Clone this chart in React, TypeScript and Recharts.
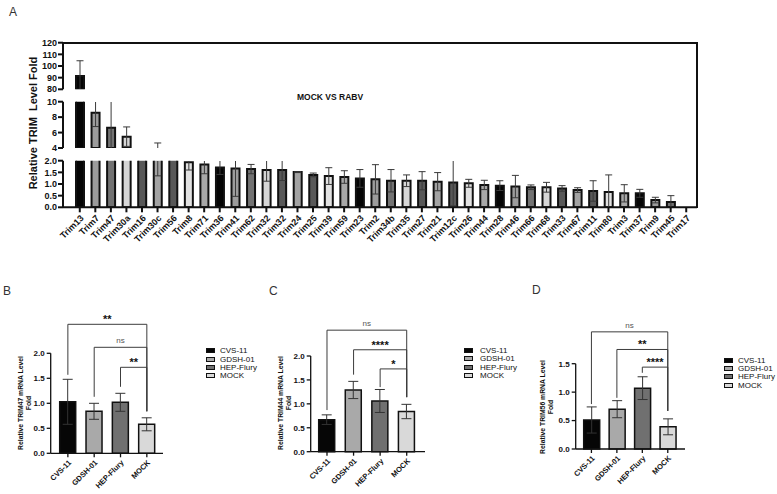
import React from "react"
import { BarChart, Bar, XAxis, YAxis, ErrorBar, Cell, ReferenceLine } from "recharts"

const FONT = '"Liberation Sans", Arial, Helvetica, sans-serif'
const INK = "#111"

// Panel A: MOCK vs RABV screen, relative fold per TRIM gene
const trimGenes = [
  "Trim13", "Trim7", "Trim47", "Trim30a", "Trim16", "Trim30c", "Trim56", "Trim8", "Trim71", "Trim36",
  "Trim41", "Trim62", "Trim32", "Trim32", "Trim24", "Trim25", "Trim39", "Trim59", "Trim23", "Trim2",
  "Trim34b", "Trim35", "Trim27", "Trim21", "Trim12c", "Trim26", "Trim44", "Trim28", "Trim46", "Trim66",
  "Trim68", "Trim33", "Trim67", "Trim11", "Trim80", "Trim3", "Trim37", "Trim9", "Trim45", "Trim17",
]
const trimFold = [
  91.5, 8.58, 6.64, 5.47, 2.4, 3.0, 2.2, 1.93, 1.84, 1.71,
  1.67, 1.64, 1.6, 1.6, 1.51, 1.39, 1.34, 1.3, 1.24, 1.2,
  1.14, 1.14, 1.14, 1.1, 1.06, 1.03, 0.96, 0.93, 0.89, 0.86,
  0.86, 0.81, 0.74, 0.7, 0.66, 0.6, 0.6, 0.31, 0.23, 0,
]
const trimSd = [
  13, 1.8, 3.5, 1.26, 0.3, 1.65, 0.1, 0.33, 0.4, 0.3,
  1.2, 0.2, 0.48, 0.45, 0.02, 0.08, 0.36, 0.27, 0.38, 0.63,
  0.48, 0.25, 0.39, 0.39, 1.0, 0.17, 0.2, 0.21, 0.48, 0.1,
  0.21, 0.12, 0.1, 0.44, 0.73, 0.37, 0.17, 0.12, 0.27, 0,
]
// shades repeat every 9 genes
const trimShades = ["#050505", "#9c9c9c", "#727272", "#d6d6d6", "#585858", "#a3a3a3", "#585858", "#e2e2e2", "#a8a8a8"]

// the broken y axis: three stacked ranges
const segDomains = [[80, 120], [4, 10], [0, 2]]
const segTicks = [[80, 90, 100, 110, 120], [4, 6, 8, 10], [0, 0.5, 1, 1.5, 2]]

// Panels B-D
const strains = ["CVS-11", "GDSH-01", "HEP-Flury", "MOCK"]
const strainShades = ["#060606", "#a9a9a9", "#707070", "#d9d9d9"]

const trim47Fold = [1.03, 0.84, 1.02, 0.58]
const trim47Sd = [0.45, 0.16, 0.18, 0.13]
const trim47Marks = ["**", "ns", "**"]
const trim47BracketY = [2.58, 2.12, 1.72]
const trim47LegEnd = [1.57, 1.13, 1.33, 0.84]

const trim44Fold = [0.67, 1.29, 1.06, 0.84]
const trim44Sd = [0.1, 0.18, 0.24, 0.15]
const trim44Marks = ["ns", "****", "*"]
const trim44BracketY = [2.54, 2.13, 1.73]
const trim44LegEnd = [0.87, 1.61, 1.35, 1.14]

const trim56Fold = [0.51, 0.7, 1.07, 0.39]
const trim56Sd = [0.23, 0.15, 0.2, 0.14]
const trim56Marks = ["ns", "**", "****"]
const trim56BracketY = [2.06, 1.75, 1.44]
const trim56LegEnd = [0.79, 0.9, 1.34, 0.67]

const segBoxes = [
  { top: 30, height: 66, mt: 12.7, plot: 46.6 },
  { top: 95, height: 60, mt: 6.7, plot: 46.3 },
  { top: 150, height: 100, mt: 10.7, plot: 46.6 },
]
const X_AXIS_H = 42.7
const axisPad = { left: 9, right: 3 }

function TrimSegment({ idx }: { idx: number }) {
  const [lo] = segDomains[idx]
  const box = segBoxes[idx]
  const last = idx === 2
  // values below the segment floor are left out so no stray outline shows at the break
  const rows = trimGenes.map((gene, i) => ({
    gene,
    box: trimFold[i] > lo || last ? trimFold[i] : null,
    fold: trimFold[i],
    sd: trimSd[i],
  }))
  const mb = box.height - box.mt - box.plot
  return (
    <>
      <div style={{ position: "absolute", left: 0, top: box.top }}>
        <BarChart width={777} height={box.height} data={rows} barSize={8}
          margin={{ top: box.mt, right: 80, bottom: last ? mb - X_AXIS_H : mb, left: 33 }}>
          <XAxis dataKey="gene" interval={0} hide={!last} height={X_AXIS_H} padding={axisPad}
            axisLine={{ stroke: INK, strokeWidth: 2 }} tickLine={{ stroke: INK, strokeWidth: 2 }}
            tickSize={5} angle={-45} textAnchor="end"
            tick={{ fontSize: 9, fontWeight: 700, fill: INK, fontFamily: FONT }} />
          <YAxis type="number" domain={segDomains[idx]} ticks={segTicks[idx]} allowDataOverflow
            width={30} tickSize={5} tickMargin={1} interval={0}
            tickFormatter={(v: number) => (last ? v.toFixed(1) : String(v))}
            axisLine={{ stroke: INK, strokeWidth: 2 }} tickLine={{ stroke: INK, strokeWidth: 2 }}
            tick={{ fontSize: 9, fontWeight: 700, fill: INK, fontFamily: FONT }} />
          <Bar dataKey="box" isAnimationActive={false} stroke={INK} strokeWidth={2}>
            {rows.map((r, i) => (
              <Cell key={i} fill={trimShades[i % trimShades.length]} />
            ))}
          </Bar>
        </BarChart>
      </div>
      {/* error bars sit in their own layer, cut to the segment's plot band */}
      <div style={{
        position: "absolute", left: 0, top: box.top + box.mt, width: 777, height: box.plot,
        overflow: "hidden",
      }}>
        <div style={{ marginTop: -box.mt }}>
          <BarChart width={777} height={box.height} data={rows} barSize={8}
            margin={{ top: box.mt, right: 80, bottom: mb, left: 63 }}>
            <XAxis dataKey="gene" hide padding={axisPad} />
            <YAxis type="number" domain={segDomains[idx]} allowDataOverflow hide />
            <Bar dataKey="fold" isAnimationActive={false} fill="none" stroke="none">
              <ErrorBar dataKey="sd" width={3.5} stroke="#3a3a3a" strokeWidth={1} />
            </Bar>
          </BarChart>
        </div>
      </div>
    </>
  )
}

type PanelProps = {
  fold: number[]
  sd: number[]
  marks: string[]
  bracketY: number[]
  legEnd: number[]
  domain: number[]
  ticks: number[]
  left: number
  width: number
  margin: { top: number; right: number; bottom: number; left: number }
  yWidth: number
  xHeight: number
  pad: { left: number; right: number }
}

function StrainPanel(p: PanelProps) {
  const rows = strains.map((s, i) => ({ strain: s, fold: p.fold[i], sd: p.sd[i] }))
  const target = strains[strains.length - 1]
  return (
    <div style={{ position: "absolute", left: p.left, top: 300 }}>
      <BarChart width={p.width} height={194} data={rows} barSize={16} margin={p.margin}>
        <XAxis dataKey="strain" interval={0} allowDuplicatedCategory={false} height={p.xHeight}
          padding={p.pad} axisLine={{ stroke: INK, strokeWidth: 1.3 }}
          tickLine={{ stroke: INK, strokeWidth: 1.3 }} tickSize={4} angle={-45} textAnchor="end"
          tick={{ fontSize: 7.5, fontWeight: 700, fill: INK, fontFamily: FONT }} />
        <YAxis type="number" domain={p.domain} ticks={p.ticks} width={p.yWidth} tickSize={4}
          tickMargin={2} interval={0} tickFormatter={(v: number) => v.toFixed(1)}
          axisLine={{ stroke: INK, strokeWidth: 1.3 }} tickLine={{ stroke: INK, strokeWidth: 1.3 }}
          tick={{ fontSize: 8, fontWeight: 700, fill: INK, fontFamily: FONT }} />
        <Bar dataKey="fold" isAnimationActive={false} stroke={INK} strokeWidth={1.5}>
          {rows.map((r, i) => (
            <Cell key={r.strain} fill={strainShades[i]} />
          ))}
          <ErrorBar dataKey="sd" width={5} stroke="#333" strokeWidth={1} />
        </Bar>
        {p.marks.map((m, i) => {
          const from = strains[i]
          const y = p.bracketY[i]
          const ns = m === "ns"
          return [
            <ReferenceLine key={`h${i}`} ifOverflow="visible" stroke="#3c3c3c" strokeWidth={1}
              segment={[{ x: from, y }, { x: target, y }]}
              label={{
                value: m, position: "top", offset: ns ? 4 : 1, fill: ns ? "#555" : INK,
                fontSize: ns ? 8 : 11, fontWeight: ns ? 400 : 700, fontFamily: FONT,
              }} />,
            <ReferenceLine key={`l${i}`} ifOverflow="visible" stroke="#3c3c3c" strokeWidth={1}
              segment={[{ x: from, y: p.legEnd[i] }, { x: from, y }]} />,
            <ReferenceLine key={`r${i}`} ifOverflow="visible" stroke="#3c3c3c" strokeWidth={1}
              segment={[{ x: target, y: p.legEnd[3] }, { x: target, y }]} />,
          ]
        })}
      </BarChart>
    </div>
  )
}

function StrainLegend({ left, top, gap }: { left: number; top: number; gap: number }) {
  return (
    <div style={{ position: "absolute", left, top, fontFamily: FONT, fontSize: 8, color: INK }}>
      {strains.map((s, i) => (
        <div key={s} style={{ display: "flex", alignItems: "center", height: 8.3, whiteSpace: "nowrap" }}>
          <span style={{
            display: "inline-block", width: 9, height: 5, background: strainShades[i],
            border: `1px solid ${INK}`, boxSizing: "border-box", marginRight: gap,
          }} />
          {s}
        </div>
      ))}
    </div>
  )
}

function FoldLabel({ cx, cy, gene }: { cx: number; cy: number; gene: string }) {
  return (
    <div style={{
      position: "absolute", left: cx - 60, top: cy - 8, width: 120, height: 16,
      transform: "rotate(-90deg)", textAlign: "center", fontFamily: FONT, fontSize: 6.8,
      fontWeight: 700, lineHeight: "7.6px", color: INK, whiteSpace: "nowrap",
    }}>
      Relative {gene} mRNA Level
      <br />
      Fold
    </div>
  )
}

function PanelTag({ x, y, text }: { x: number; y: number; text: string }) {
  return (
    <div style={{ position: "absolute", left: x, top: y, fontFamily: FONT, fontSize: 12, color: "#333", lineHeight: "12px" }}>
      {text}
    </div>
  )
}

export default function App() {
  return (
    <div style={{ position: "absolute", left: 0, top: 0, width: 777, height: 494, background: "#fff", overflow: "hidden" }}>
      <PanelTag x={9} y={6} text="A" />
      <PanelTag x={3} y={285} text="B" />
      <PanelTag x={269} y={285} text="C" />
      <PanelTag x={532} y={284} text="D" />

      {/* frame on top and right of panel A */}
      <div style={{
        position: "absolute", left: 62, top: 41.7, width: 636, height: 166.6,
        borderTop: `2px solid ${INK}`, borderRight: `2px solid ${INK}`, boxSizing: "border-box",
      }} />
      {[0, 1, 2].map((i) => (
        <TrimSegment key={i} idx={i} />
      ))}
      <div style={{
        position: "absolute", left: 33 - 85, top: 123 - 8, width: 170, height: 16,
        transform: "rotate(-90deg)", textAlign: "center", fontFamily: FONT, fontSize: 11,
        fontWeight: 700, color: INK, whiteSpace: "pre", lineHeight: "16px",
      }}>
        Relative TRIM  Level Fold
      </div>
      <div style={{
        position: "absolute", left: 297, top: 92, fontFamily: FONT, fontSize: 8.5,
        fontWeight: 700, color: INK, whiteSpace: "nowrap",
      }}>
        MOCK VS RABV
      </div>

      <StrainPanel fold={trim47Fold} sd={trim47Sd} marks={trim47Marks}
        bracketY={trim47BracketY} legEnd={trim47LegEnd} domain={[0, 2]} ticks={[0, 0.5, 1, 1.5, 2]}
        left={0} width={175} margin={{ top: 53.3, right: 12, bottom: 0, left: 20.7 }}
        yWidth={30} xHeight={40.7} pad={{ left: 4, right: 3 }} />
      <FoldLabel cx={24.5} cy={403} gene="TRIM47" />
      <StrainLegend left={206} top={346.8} gap={5} />

      <StrainPanel fold={trim44Fold} sd={trim44Sd} marks={trim44Marks}
        bracketY={trim44BracketY} legEnd={trim44LegEnd} domain={[0, 2]} ticks={[0, 0.5, 1, 1.5, 2]}
        left={260} width={180} margin={{ top: 56, right: 15, bottom: 0, left: 20.7 }}
        yWidth={30} xHeight={42.3} pad={{ left: 3, right: 5 }} />
      <FoldLabel cx={285} cy={403} gene="TRIM44" />
      <StrainLegend left={464} top={346.5} gap={7} />

      <StrainPanel fold={trim56Fold} sd={trim56Sd} marks={trim56Marks}
        bracketY={trim56BracketY} legEnd={trim56LegEnd} domain={[0, 1.5]} ticks={[0, 0.5, 1, 1.5]}
        left={510} width={190} margin={{ top: 63.7, right: 15, bottom: 0, left: 30.7 }}
        yWidth={35} xHeight={45} pad={{ left: 3, right: 4.5 }} />
      <FoldLabel cx={547} cy={406.7} gene="TRIM56" />
      <StrainLegend left={724} top={356} gap={5} />
    </div>
  )
}
